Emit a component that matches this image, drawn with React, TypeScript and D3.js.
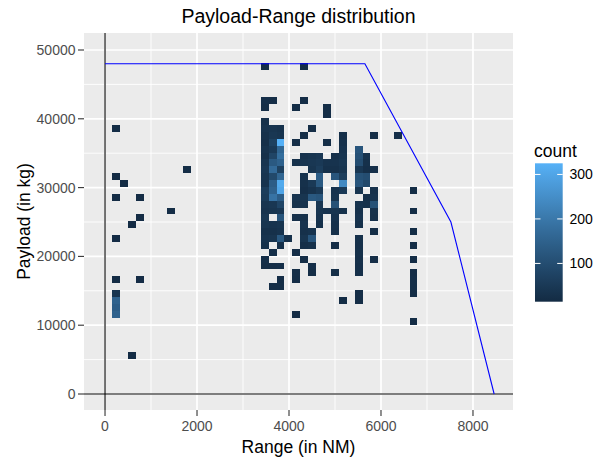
import React from "react";
import * as d3 from "d3";

// stat_bin_2d output: bin centre (range NM, payload kg) and count
const binRange = [
  245, 245, 245, 245, 245, 245, 245, 245, 245,
  415,
  585, 585,
  755, 755, 755,
  1435,
  1775,
  3475, 3475, 3475, 3475, 3475, 3475, 3475, 3475, 3475, 3475, 3475, 3475, 3475, 3475, 3475, 3475, 3475, 3475, 3475, 3475, 3475, 3475, 3475, 3475,
  3645, 3645, 3645, 3645, 3645, 3645, 3645, 3645, 3645, 3645, 3645, 3645, 3645, 3645, 3645, 3645, 3645, 3645, 3645, 3645,
  3815, 3815, 3815, 3815, 3815, 3815, 3815, 3815, 3815, 3815, 3815, 3815, 3815, 3815, 3815, 3815, 3815, 3815, 3815, 3815, 3815,
  3985,
  4155, 4155, 4155, 4155, 4155, 4155, 4155, 4155, 4155, 4155,
  4325, 4325, 4325, 4325, 4325, 4325, 4325, 4325, 4325, 4325, 4325, 4325, 4325, 4325, 4325, 4325,
  4495, 4495, 4495, 4495, 4495, 4495, 4495, 4495, 4495, 4495, 4495, 4495,
  4665, 4665, 4665, 4665, 4665, 4665, 4665, 4665, 4665, 4665, 4665,
  4835, 4835, 4835, 4835, 4835, 4835,
  5005, 5005, 5005, 5005, 5005, 5005, 5005, 5005, 5005, 5005, 5005, 5005, 5005,
  5175, 5175, 5175, 5175, 5175, 5175, 5175, 5175, 5175, 5175, 5175,
  5515, 5515, 5515, 5515, 5515, 5515, 5515, 5515, 5515, 5515, 5515, 5515, 5515, 5515, 5515, 5515, 5515, 5515, 5515,
  5685, 5685, 5685, 5685, 5685, 5685, 5685,
  5855, 5855, 5855, 5855, 5855, 5855, 5855, 5855, 5855,
  6365,
  6705, 6705, 6705, 6705, 6705, 6705, 6705, 6705, 6705, 6705,
];

const binPayload = [
  38600, 31600, 28600, 22600, 16600, 14600, 13600, 12600, 11600,
  30600,
  24600, 5600,
  28600, 25600, 16600,
  26600,
  32600,
  47600, 42600, 41600, 39600, 38600, 37600, 36600, 35600, 34600, 33600, 32600, 31600, 30600, 29600, 28600, 27600, 26600, 25600, 24600, 23600, 22600, 21600, 19600, 18600,
  42600, 38600, 37600, 36600, 35600, 34600, 33600, 32600, 31600, 30600, 29600, 28600, 27600, 26600, 24600, 23600, 22600, 20600, 18600, 15600,
  38600, 37600, 36600, 35600, 34600, 33600, 32600, 31600, 30600, 29600, 28600, 27600, 26600, 25600, 24600, 23600, 22600, 21600, 18600, 16600, 15600,
  22600,
  41600, 36600, 33600, 28600, 27600, 25600, 20600, 17600, 16600, 11600,
  47600, 42600, 37600, 34600, 33600, 31600, 30600, 29600, 28600, 27600, 25600, 24600, 23600, 22600, 21600, 19600,
  38600, 34600, 33600, 32600, 30600, 29600, 28600, 23600, 22600, 21600, 18600, 17600,
  34600, 33600, 32600, 31600, 30600, 29600, 28600, 27600, 26600, 25600, 24600,
  41600, 40600, 36600, 33600, 32600, 26600,
  34600, 33600, 32600, 31600, 29600, 28600, 27600, 26600, 25600, 24600, 23600, 21600, 17600,
  37600, 36600, 35600, 34600, 33600, 32600, 31600, 30600, 29600, 26600, 13600,
  35600, 34600, 33600, 32600, 31600, 30600, 29600, 27600, 26600, 25600, 24600, 22600, 21600, 20600, 19600, 18600, 17600, 14600, 13600,
  34600, 33600, 32600, 31600, 30600, 28600, 27600,
  37600, 32600, 29600, 28600, 27600, 26600, 25600, 23600, 19600,
  37600,
  29600, 26600, 23600, 21600, 19600, 17600, 16600, 15600, 14600, 10600,
];

const binCount = [
  20, 18, 18, 18, 18, 40, 150, 140, 150,
  18,
  18, 18,
  18, 18, 18,
  20,
  20,
  22, 25, 22, 30, 35, 30, 28, 35, 30, 40, 45, 40, 35, 60, 55, 40, 35, 45, 40, 30, 35, 30, 25, 22,
  22, 40, 45, 70, 50, 80, 130, 170, 90, 140, 150, 190, 45, 40, 35, 30, 40, 25, 22, 22,
  35, 40, 325, 160, 180, 150, 70, 160, 310, 300, 140, 80, 45, 120, 40, 35, 130, 30, 25, 20, 22,
  30,
  20, 22, 30, 35, 30, 28, 22, 22, 20, 18,
  22, 20, 22, 35, 40, 35, 30, 25, 40, 35, 30, 35, 30, 40, 25, 22,
  22, 40, 45, 40, 50, 35, 130, 35, 120, 30, 25, 22,
  45, 50, 60, 140, 130, 50, 120, 45, 40, 35, 30,
  22, 22, 22, 35, 30, 35,
  30, 35, 30, 120, 35, 40, 110, 40, 35, 30, 28, 22, 22,
  25, 30, 35, 40, 45, 40, 60, 240, 50, 30, 20,
  120, 110, 100, 45, 110, 120, 40, 35, 30, 35, 30, 30, 28, 30, 28, 25, 25, 22, 22,
  35, 30, 25, 100, 90, 25, 30,
  22, 25, 30, 35, 110, 30, 28, 22, 22,
  25,
  20, 20, 20, 20, 20, 22, 25, 25, 22, 20,
];

const binWidth = 170;
const binHeight = 1000;

// payload-range envelope
const envelopeRange = [0, 5650, 7520, 8460];
const envelopePayload = [48000, 48000, 25000, 0];

const xTicks = [0, 2000, 4000, 6000, 8000];
const xMinor = [1000, 3000, 5000, 7000];
const yTicks = [0, 10000, 20000, 30000, 40000, 50000];
const yMinor = [5000, 15000, 25000, 35000, 45000];
const legendTicks = [100, 200, 300];
const countLimits = [14, 325];

const W = 603;
const H = 459;
const panel = { left: 84, right: 513, top: 33, bottom: 410 };
const font = "'Liberation Sans', Arial, sans-serif";

export default function App() {
  const x = d3.scaleLinear().domain([-457, 8870]).range([panel.left, panel.right]);
  const y = d3.scaleLinear().domain([-2325, 52470]).range([panel.bottom, panel.top]);
  const fill = d3
    .scaleLinear<string>()
    .domain(countLimits)
    .range(["#132B43", "#56B1F7"])
    .interpolate(d3.interpolateLab);

  const line = d3
    .line<number>()
    .x((d) => x(d))
    .y((_, i) => y(envelopePayload[i]));

  const bar = { x: 535, w: 27.7, top: 163.3, bottom: 301.7 };
  const legendY = d3.scaleLinear().domain(countLimits).range([bar.bottom, bar.top]);
  const stops = d3.range(0, 1.0001, 0.1);

  const pw = panel.right - panel.left;
  const ph = panel.bottom - panel.top;

  return (
    <svg
      width={W}
      height={H}
      style={{ position: "absolute", left: 0, top: 0, background: "#fff" }}
      fontFamily={font}
    >
      <defs>
        <linearGradient id="cbar" x1="0" y1="1" x2="0" y2="0">
          {stops.map((t) => (
            <stop
              key={t}
              offset={t}
              stopColor={fill(countLimits[0] + t * (countLimits[1] - countLimits[0]))}
            />
          ))}
        </linearGradient>
        <clipPath id="pclip">
          <rect x={panel.left} y={panel.top} width={pw} height={ph} />
        </clipPath>
      </defs>

      <rect x={panel.left} y={panel.top} width={pw} height={ph} fill="#EBEBEB" />

      {xMinor.map((v) => (
        <line key={"xm" + v} x1={x(v)} x2={x(v)} y1={panel.top} y2={panel.bottom} stroke="#fff" strokeWidth={0.9} />
      ))}
      {yMinor.map((v) => (
        <line key={"ym" + v} x1={panel.left} x2={panel.right} y1={y(v)} y2={y(v)} stroke="#fff" strokeWidth={0.9} />
      ))}
      {xTicks.map((v) => (
        <line key={"xg" + v} x1={x(v)} x2={x(v)} y1={panel.top} y2={panel.bottom} stroke="#fff" strokeWidth={1.7} />
      ))}
      {yTicks.map((v) => (
        <line key={"yg" + v} x1={panel.left} x2={panel.right} y1={y(v)} y2={y(v)} stroke="#fff" strokeWidth={1.7} />
      ))}

      <g clipPath="url(#pclip)">
        <g shapeRendering="crispEdges">
          {binRange.map((r, i) => {
            const x0 = x(r - binWidth / 2);
            const x1 = x(r + binWidth / 2);
            const y0 = y(binPayload[i] + binHeight / 2);
            const y1 = y(binPayload[i] - binHeight / 2);
            return (
              <rect key={i} x={x0} y={y0} width={x1 - x0} height={y1 - y0} fill={fill(binCount[i])} />
            );
          })}
        </g>

        <line x1={panel.left} x2={panel.right} y1={y(0)} y2={y(0)} stroke="#000" strokeWidth={1.1} />
        <line x1={x(0)} x2={x(0)} y1={panel.top} y2={panel.bottom} stroke="#000" strokeWidth={1.1} />
        <path d={line(envelopeRange) || ""} fill="none" stroke="#0000FF" strokeWidth={1.1} />
      </g>

      {/* axes */}
      {xTicks.map((v) => (
        <g key={"xt" + v}>
          <line x1={x(v)} x2={x(v)} y1={panel.bottom} y2={panel.bottom + 6} stroke="#333" strokeWidth={1.1} />
          <text x={x(v)} y={431} textAnchor="middle" fontSize={14} fill="#4D4D4D">
            {v}
          </text>
        </g>
      ))}
      {yTicks.map((v) => (
        <g key={"yt" + v}>
          <line x1={panel.left - 6} x2={panel.left} y1={y(v)} y2={y(v)} stroke="#333" strokeWidth={1.1} />
          <text x={75.5} y={y(v) + 5} textAnchor="end" fontSize={14} fill="#4D4D4D">
            {v}
          </text>
        </g>
      ))}

      <text x={(panel.left + panel.right) / 2} y={453} textAnchor="middle" fontSize={17.5} fill="#000">
        Range (in NM)
      </text>
      <text
        transform={`translate(29.5,${(panel.top + panel.bottom) / 2}) rotate(-90)`}
        textAnchor="middle"
        fontSize={17.5}
        fill="#000"
      >
        Payload (in kg)
      </text>
      <text x={(panel.left + panel.right) / 2} y={23} textAnchor="middle" fontSize={19.5} fill="#000">
        Payload-Range distribution
      </text>

      {/* legend */}
      <text x={534} y={156.7} fontSize={17.5} fill="#000">
        count
      </text>
      <rect x={bar.x} y={bar.top} width={bar.w} height={bar.bottom - bar.top} fill="url(#cbar)" />
      {legendTicks.map((v) => (
        <g key={"lt" + v}>
          <line x1={bar.x} x2={bar.x + 5.5} y1={legendY(v)} y2={legendY(v)} stroke="#fff" strokeWidth={1} />
          <line x1={bar.x + bar.w - 5.5} x2={bar.x + bar.w} y1={legendY(v)} y2={legendY(v)} stroke="#fff" strokeWidth={1} />
          <text x={569.5} y={legendY(v) + 5} fontSize={14} fill="#000">
            {v}
          </text>
        </g>
      ))}
    </svg>
  );
}
